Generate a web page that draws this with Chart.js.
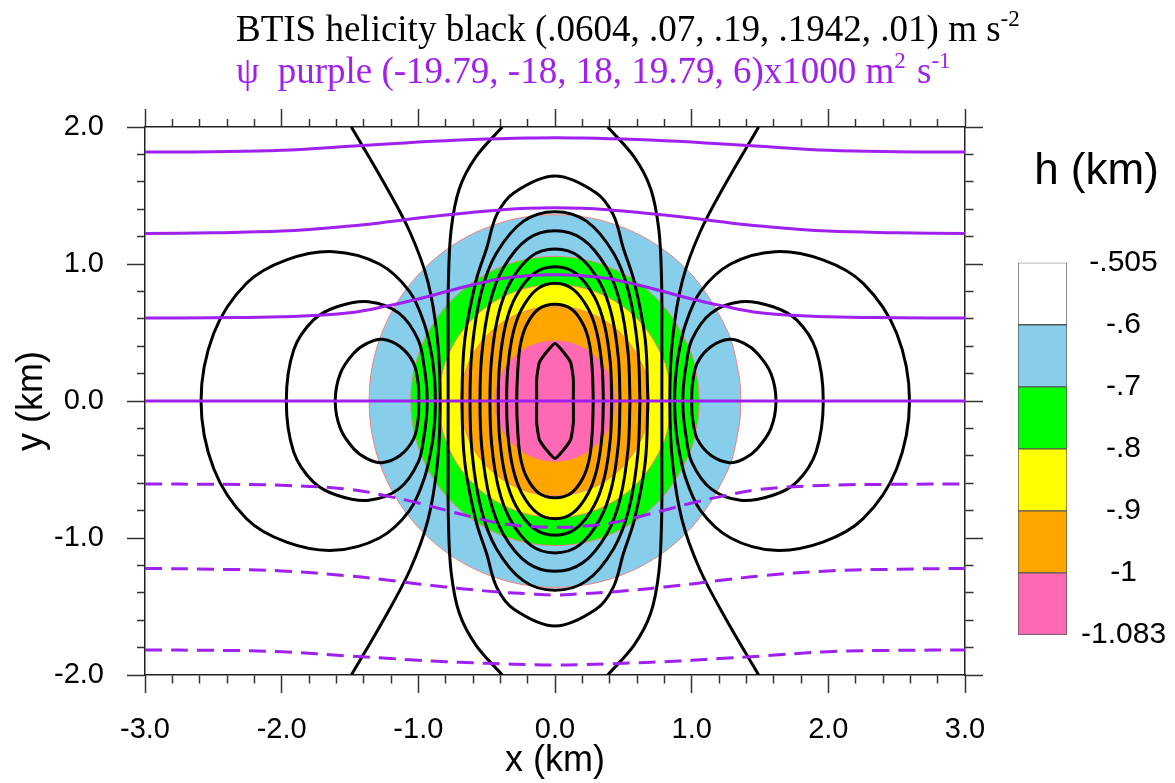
<!DOCTYPE html>
<html>
<head>
<meta charset="utf-8">
<title>BTIS helicity</title>
<script src="https://cdn.jsdelivr.net/npm/chart.js@4.4.1/dist/chart.umd.min.js"></script>
<style>
  html, body { margin: 0; padding: 0; background: #fff; }
  #wrap { position: relative; width: 1175px; height: 783px; }
  #main { position: absolute; left: 0; top: 0; }
  #cbar { position: absolute; left: 990px; top: 130px; }
</style>
</head>
<body>
<div id="wrap">
  <canvas id="main" width="1175" height="783"></canvas>
  <canvas id="cbar" width="185" height="537"></canvas>
</div>
<script>
// ---- text ----
const titleLine1 = [['BTIS helicity black (.0604, .07, .19, .1942, .01) m s', false], ['-2', true]];
const titleLine2 = [['\u03c8  purple (-19.79, -18, 18, 19.79, 6)x1000 m', false], ['2', true], [' s', false], ['-1', true]];

// ---- colour bar (bottom to top) ----
const hLevels = ['-1.083', '-1', '-.9', '-.8', '-.7', '-.6', '-.505'];

// ---- h filled contours (km) ----
const hBlue = [[1.36,0],[1.346,0.189],[1.257,0.521],[0.962,0.962],[0.521,1.257],[0,1.36],[-0.521,1.257],[-0.962,0.962],[-1.257,0.521],[-1.36,0],[-1.257,-0.521],[-0.962,-0.962],[-0.521,-1.257],[0,-1.36],[0.521,-1.257],[0.962,-0.962],[1.257,-0.521],[1.346,-0.189],[1.36,0]];
const hGreen = [[1.055,0],[1.044,0.147],[0.975,0.404],[0.746,0.746],[0.404,0.975],[0,1.055],[-0.404,0.975],[-0.746,0.746],[-0.975,0.404],[-1.055,0],[-0.975,-0.404],[-0.746,-0.746],[-0.404,-0.975],[0,-1.055],[0.404,-0.975],[0.746,-0.746],[0.975,-0.404],[1.044,-0.147],[1.055,0]];
const hYellow = [[0.85,0],[0.842,0.118],[0.785,0.326],[0.601,0.601],[0.326,0.785],[0,0.85],[-0.326,0.785],[-0.601,0.601],[-0.785,0.326],[-0.85,0],[-0.785,-0.326],[-0.601,-0.601],[-0.326,-0.785],[0,-0.85],[0.326,-0.785],[0.601,-0.601],[0.785,-0.326],[0.842,-0.118],[0.85,0]];
const hOrange = [[0.69,0],[0.683,0.096],[0.638,0.264],[0.488,0.488],[0.264,0.638],[0,0.69],[-0.264,0.638],[-0.488,0.488],[-0.638,0.264],[-0.69,0],[-0.638,-0.264],[-0.488,-0.488],[-0.264,-0.638],[0,-0.69],[0.264,-0.638],[0.488,-0.488],[0.638,-0.264],[0.683,-0.096],[0.69,0]];
const hPink = [[0.44,0],[0.436,0.061],[0.407,0.169],[0.311,0.311],[0.169,0.407],[0,0.44],[-0.169,0.407],[-0.311,0.311],[-0.407,0.169],[-0.44,0],[-0.407,-0.169],[-0.311,-0.311],[-0.169,-0.407],[0,-0.44],[0.169,-0.407],[0.311,-0.311],[0.407,-0.169],[0.436,-0.061],[0.44,0]];

// ---- helicity contours, central closed ones ----
const hel1 = [[0.134,0],[0.134,0.16],[0.115,0.28],[0.06,0.36],[0,0.42],[-0.06,0.36],[-0.115,0.28],[-0.134,0.16],[-0.134,0],[-0.134,-0.16],[-0.115,-0.28],[-0.06,-0.36],[0,-0.42],[0.06,-0.36],[0.115,-0.28],[0.134,-0.16],[0.134,0]];
const hel2 = [[0.28,0],[0.274,0.198],[0.255,0.402],[0.21,0.551],[0.12,0.671],[0,0.706],[-0.12,0.671],[-0.21,0.551],[-0.255,0.402],[-0.274,0.198],[-0.28,0],[-0.274,-0.198],[-0.255,-0.402],[-0.21,-0.551],[-0.12,-0.671],[0,-0.706],[0.12,-0.671],[0.21,-0.551],[0.255,-0.402],[0.274,-0.198],[0.28,0]];
const hel3 = [[0.354,0],[0.345,0.241],[0.308,0.49],[0.244,0.671],[0.131,0.817],[0,0.86],[-0.131,0.817],[-0.244,0.671],[-0.308,0.49],[-0.345,0.241],[-0.354,0],[-0.345,-0.241],[-0.308,-0.49],[-0.244,-0.671],[-0.131,-0.817],[0,-0.86],[0.131,-0.817],[0.244,-0.671],[0.308,-0.49],[0.345,-0.241],[0.354,0]];
const hel4 = [[0.415,0],[0.405,0.274],[0.361,0.559],[0.286,0.764],[0.154,0.931],[0,0.98],[-0.154,0.931],[-0.286,0.764],[-0.361,0.559],[-0.405,0.274],[-0.415,0],[-0.405,-0.274],[-0.361,-0.559],[-0.286,-0.764],[-0.154,-0.931],[0,-0.98],[0.154,-0.931],[0.286,-0.764],[0.361,-0.559],[0.405,-0.274],[0.415,0]];
const hel5 = [[0.476,0],[0.464,0.311],[0.414,0.632],[0.328,0.865],[0.176,1.054],[0,1.109],[-0.176,1.054],[-0.328,0.865],[-0.414,0.632],[-0.464,0.311],[-0.476,0],[-0.464,-0.311],[-0.414,-0.632],[-0.328,-0.865],[-0.176,-1.054],[0,-1.109],[0.176,-1.054],[0.328,-0.865],[0.414,-0.632],[0.464,-0.311],[0.476,0]];
const hel6 = [[0.549,0],[0.535,0.348],[0.478,0.709],[0.379,0.97],[0.203,1.181],[0,1.243],[-0.203,1.181],[-0.379,0.97],[-0.478,0.709],[-0.535,0.348],[-0.549,0],[-0.535,-0.348],[-0.478,-0.709],[-0.379,-0.97],[-0.203,-1.181],[0,-1.243],[0.203,-1.181],[0.379,-0.97],[0.478,-0.709],[0.535,-0.348],[0.549,0]];
const hel7 = [[0.622,0],[0.606,0.387],[0.541,0.788],[0.429,1.078],[0.23,1.313],[0,1.382],[-0.23,1.313],[-0.429,1.078],[-0.541,0.788],[-0.606,0.387],[-0.622,0],[-0.606,-0.387],[-0.541,-0.788],[-0.429,-1.078],[-0.23,-1.313],[0,-1.382],[0.23,-1.313],[0.429,-1.078],[0.541,-0.788],[0.606,-0.387],[0.622,0]];
const hel8 = [[0.68,0],[0.66,0.45],[0.58,0.87],[0.5,1.115],[0.427,1.358],[0.3,1.52],[0,1.642],[-0.3,1.52],[-0.427,1.358],[-0.5,1.115],[-0.58,0.87],[-0.66,0.45],[-0.68,0],[-0.66,-0.45],[-0.58,-0.87],[-0.5,-1.115],[-0.427,-1.358],[-0.3,-1.52],[0,-1.642],[0.3,-1.52],[0.427,-1.358],[0.5,-1.115],[0.58,-0.87],[0.66,-0.45],[0.68,0]];

// ---- helicity contours, open ones reaching top and bottom ----
const helUL = [[-0.386,2],[-0.58,1.78],[-0.7,1.55],[-0.76,1.25],[-0.78,0.87],[-0.782,0.45],[-0.782,0],[-0.782,-0.45],[-0.78,-0.87],[-0.76,-1.25],[-0.7,-1.55],[-0.58,-1.78],[-0.386,-2]];
const helUR = [[0.386,2],[0.58,1.78],[0.7,1.55],[0.76,1.25],[0.78,0.87],[0.782,0.45],[0.782,0],[0.782,-0.45],[0.78,-0.87],[0.76,-1.25],[0.7,-1.55],[0.58,-1.78],[0.386,-2]];
const helXL = [[-1.49,2],[-1.256,1.6],[-1.06,1.23],[-0.93,0.87],[-0.86,0.45],[-0.84,0],[-0.86,-0.45],[-0.93,-0.87],[-1.06,-1.23],[-1.256,-1.6],[-1.49,-2]];
const helXR = [[1.49,2],[1.256,1.6],[1.06,1.23],[0.93,0.87],[0.86,0.45],[0.84,0],[0.86,-0.45],[0.93,-0.87],[1.06,-1.23],[1.256,-1.6],[1.49,-2]];

// ---- helicity contours, side rings ----
const ringL1 = [[-0.997,0],[-1.0,0.12],[-1.034,0.275],[-1.132,0.396],[-1.266,0.45],[-1.376,0.42],[-1.473,0.348],[-1.571,0.2],[-1.608,0],[-1.571,-0.2],[-1.473,-0.348],[-1.376,-0.42],[-1.266,-0.45],[-1.132,-0.396],[-1.034,-0.275],[-1.0,-0.12],[-0.997,0]];
const ringL2 = [[-0.935,0],[-0.939,0.1],[-0.956,0.24],[-1.0,0.445],[-1.14,0.64],[-1.363,0.725],[-1.595,0.688],[-1.769,0.59],[-1.912,0.372],[-1.966,0],[-1.912,-0.372],[-1.769,-0.59],[-1.595,-0.688],[-1.363,-0.725],[-1.14,-0.64],[-1.0,-0.445],[-0.956,-0.24],[-0.939,-0.1],[-0.935,0]];
const ringL3 = [[-0.875,0],[-0.88,0.14],[-0.9,0.32],[-0.955,0.56],[-1.065,0.8],[-1.285,1.0],[-1.62,1.09],[-1.964,1.03],[-2.257,0.859],[-2.497,0.494],[-2.59,0],[-2.497,-0.494],[-2.257,-0.859],[-1.964,-1.03],[-1.62,-1.09],[-1.285,-1.0],[-1.065,-0.8],[-0.955,-0.56],[-0.9,-0.32],[-0.88,-0.14],[-0.875,0]];
const ringR1 = [[1.0,0],[1.005,0.12],[1.04,0.275],[1.14,0.396],[1.277,0.45],[1.385,0.42],[1.48,0.348],[1.58,0.2],[1.617,0],[1.58,-0.2],[1.48,-0.348],[1.385,-0.42],[1.277,-0.45],[1.14,-0.396],[1.04,-0.275],[1.005,-0.12],[1.0,0]];
const ringR2 = [[0.935,0],[0.939,0.1],[0.956,0.24],[1.0,0.445],[1.14,0.64],[1.358,0.725],[1.595,0.688],[1.77,0.59],[1.91,0.372],[1.963,0],[1.91,-0.372],[1.77,-0.59],[1.595,-0.688],[1.358,-0.725],[1.14,-0.64],[1.0,-0.445],[0.956,-0.24],[0.939,-0.1],[0.935,0]];
const ringR3 = [[0.875,0],[0.88,0.14],[0.9,0.32],[0.955,0.56],[1.065,0.8],[1.285,1.0],[1.61,1.09],[1.96,1.03],[2.255,0.859],[2.5,0.494],[2.594,0],[2.5,-0.494],[2.255,-0.859],[1.96,-1.03],[1.61,-1.09],[1.285,-1.0],[1.065,-0.8],[0.955,-0.56],[0.9,-0.32],[0.88,-0.14],[0.875,0]];

// ---- psi streamlines (x1000 m2 s-1 levels), y in km along psiX ----
const psiX = [-3,-2.5,-2,-1.5,-1.2,-1,-0.8,-0.6,-0.4,-0.2,0,0.2,0.4,0.6,0.8,1,1.2,1.5,2,2.5,3];
const psi1 = [1.818,1.82,1.83,1.86,1.877,1.89,1.9,1.908,1.915,1.92,1.922,1.92,1.915,1.908,1.9,1.89,1.877,1.86,1.83,1.82,1.818];
const psi2 = [1.222,1.228,1.24,1.277,1.31,1.335,1.357,1.378,1.395,1.407,1.411,1.407,1.395,1.378,1.357,1.335,1.31,1.277,1.24,1.228,1.222];
const psi3 = [0.606,0.608,0.615,0.645,0.7,0.745,0.797,0.848,0.893,0.915,0.922,0.915,0.893,0.848,0.797,0.745,0.7,0.645,0.615,0.608,0.606];
const psi4 = [0,0,0,0,0,0,0,0,0,0,0,0,0,0,0,0,0,0,0,0,0];
const psi5 = [-0.606,-0.608,-0.615,-0.645,-0.7,-0.745,-0.797,-0.848,-0.893,-0.915,-0.922,-0.915,-0.893,-0.848,-0.797,-0.745,-0.7,-0.645,-0.615,-0.608,-0.606];
const psi6 = [-1.222,-1.228,-1.24,-1.277,-1.31,-1.335,-1.357,-1.378,-1.395,-1.407,-1.416,-1.407,-1.395,-1.378,-1.357,-1.335,-1.31,-1.277,-1.24,-1.228,-1.222];
const psi7 = [-1.818,-1.82,-1.83,-1.862,-1.88,-1.893,-1.903,-1.911,-1.918,-1.924,-1.927,-1.924,-1.918,-1.911,-1.903,-1.893,-1.88,-1.862,-1.83,-1.82,-1.818];

// ---- styles ----
const SANS = '"Liberation Sans", Arial, sans-serif';
const SERIF = '"Liberation Serif", "Times New Roman", serif';
const PURPLE = '#a020f0';
const fillColors = ['#ff69b4', '#ffa500', '#ffff00', '#00ff00', '#87ceeb', '#ffffff'];

const isMajor = v => Math.abs(v - Math.round(v)) < 1e-6;

function fillSet(pts, color, order) {
  return { data: pts, fill: 'shape', backgroundColor: color, borderColor: '#f08080',
           borderWidth: 1, pointRadius: 0, tension: 0.35, order: order };
}
function helSet(pts, tension) {
  return { data: pts, fill: false, borderColor: '#000', borderWidth: 3, pointRadius: 0,
           tension: tension === undefined ? 0.35 : tension, order: 1 };
}
function psiSet(ys, dashed) {
  return { data: psiX.map((x, i) => [x, ys[i]]), fill: false, borderColor: PURPLE, borderWidth: 3,
           borderDash: dashed ? [17, 9] : [], pointRadius: 0, tension: 0.4, order: 0 };
}

const datasets = [
  fillSet(hBlue, fillColors[4], 6),
  fillSet(hGreen, fillColors[3], 5),
  fillSet(hYellow, fillColors[2], 4),
  fillSet(hOrange, fillColors[1], 3),
  fillSet(hPink, fillColors[0], 2),
  helSet(hel1, 0.15), helSet(hel2), helSet(hel3), helSet(hel4), helSet(hel5), helSet(hel6), helSet(hel7), helSet(hel8),
  helSet(helUL), helSet(helUR), helSet(helXL), helSet(helXR),
  helSet(ringL1), helSet(ringL2), helSet(ringL3), helSet(ringR1), helSet(ringR2), helSet(ringR3),
  psiSet(psi1, false), psiSet(psi2, false), psiSet(psi3, false), psiSet(psi4, false),
  psiSet(psi5, true), psiSet(psi6, true), psiSet(psi7, true)
];

// tick marks point outward; minor ticks shortened with a dash pattern
function gridFor(outerFirst) {
  return {
    drawOnChartArea: false, drawTicks: true, tickLength: 18, tickWidth: 1.5, tickColor: '#333',
    tickBorderDash: c => (c.tick && !isMajor(c.tick.value)) ? [8, 10] : [],
    tickBorderDashOffset: c => (outerFirst && c.tick && !isMajor(c.tick.value)) ? 8 : 0
  };
}
const tickFont = { family: SANS, size: 29 };
const axisBorder = { display: true, color: '#222', width: 1.5 };

function drawRuns(ctx, x, y, color, runs) {
  ctx.fillStyle = color;
  for (const [txt, sup] of runs) {
    ctx.font = (sup ? '23px ' : '37px ') + SERIF;
    ctx.fillText(txt, x, sup ? y - 15 : y);
    x += ctx.measureText(txt).width + (sup ? 2 : 0);
  }
}
const titlePlugin = {
  id: 'twoLineTitle',
  afterDraw(chart) {
    const ctx = chart.ctx;
    ctx.save();
    ctx.textBaseline = 'alphabetic';
    ctx.textAlign = 'left';
    drawRuns(ctx, 236, 41, '#000', titleLine1);
    drawRuns(ctx, 236, 83, PURPLE, titleLine2);
    ctx.restore();
  }
};

new Chart(document.getElementById('main'), {
  type: 'line',
  data: { datasets: datasets },
  plugins: [titlePlugin],
  options: {
    responsive: false, animation: false, events: [],
    layout: { padding: { top: 109, right: 192, bottom: 0, left: 0 } },
    plugins: { legend: { display: false }, tooltip: { enabled: false }, title: { display: false } },
    scales: {
      x: {
        type: 'linear', position: 'bottom', min: -3, max: 3,
        border: axisBorder, grid: gridFor(false),
        ticks: { stepSize: 0.2, maxTicksLimit: 100, autoSkip: false, maxRotation: 0, padding: 20,
                 font: tickFont, color: '#000', callback: v => isMajor(v) ? v.toFixed(1) : '' },
        title: { display: true, text: 'x (km)', font: { family: SANS, size: 36 }, color: '#000', padding: 0 },
        afterFit: s => { s.height = 108; }
      },
      x2: {
        type: 'linear', position: 'top', min: -3, max: 3,
        border: axisBorder, grid: gridFor(true),
        ticks: { stepSize: 0.2, maxTicksLimit: 100, autoSkip: false, display: false },
        afterFit: s => { s.height = 18; }
      },
      y: {
        type: 'linear', position: 'left', min: -2, max: 2,
        border: axisBorder, grid: gridFor(true),
        ticks: { stepSize: 0.2, maxTicksLimit: 100, autoSkip: false, padding: 23,
                 font: tickFont, color: '#000', callback: v => isMajor(v) ? v.toFixed(1) : '' },
        title: { display: true, text: 'y (km)', font: { family: SANS, size: 36 }, color: '#000', padding: { top: 10, bottom: 0 } },
        afterFit: s => { s.width = 145; }
      },
      y2: {
        type: 'linear', position: 'right', min: -2, max: 2,
        border: axisBorder, grid: gridFor(false),
        ticks: { stepSize: 0.2, maxTicksLimit: 100, autoSkip: false, display: false },
        afterFit: s => { s.width = 18; }
      }
    }
  }
});

// colour bar: one stacked bar, one segment per h interval
new Chart(document.getElementById('cbar'), {
  type: 'bar',
  data: {
    labels: [''],
    datasets: fillColors.map(c => ({ data: [1], backgroundColor: c, borderColor: '#555',
                                     borderWidth: 1, borderSkipped: false,
                                     barPercentage: 1, categoryPercentage: 1 }))
  },
  options: {
    responsive: false, animation: false, events: [],
    layout: { padding: { left: 28, right: 0, top: 0, bottom: 25 } },
    plugins: {
      legend: { display: false }, tooltip: { enabled: false },
      title: { display: true, text: 'h (km)', color: '#000',
               font: { family: SANS, size: 44, weight: 'normal' }, padding: { top: 15.6, bottom: 64.3 } }
    },
    scales: {
      x: { display: false, stacked: true },
      y: {
        position: 'right', stacked: true, min: 0, max: hLevels.length - 1,
        grid: { display: false, drawTicks: false }, border: { display: false },
        ticks: { stepSize: 1, padding: 14, crossAlign: 'center', color: '#000',
                 font: { family: SANS, size: 30 }, callback: v => hLevels[v] },
        afterFit: s => { s.width = 108; }
      }
    }
  }
});
</script>
</body>
</html>
